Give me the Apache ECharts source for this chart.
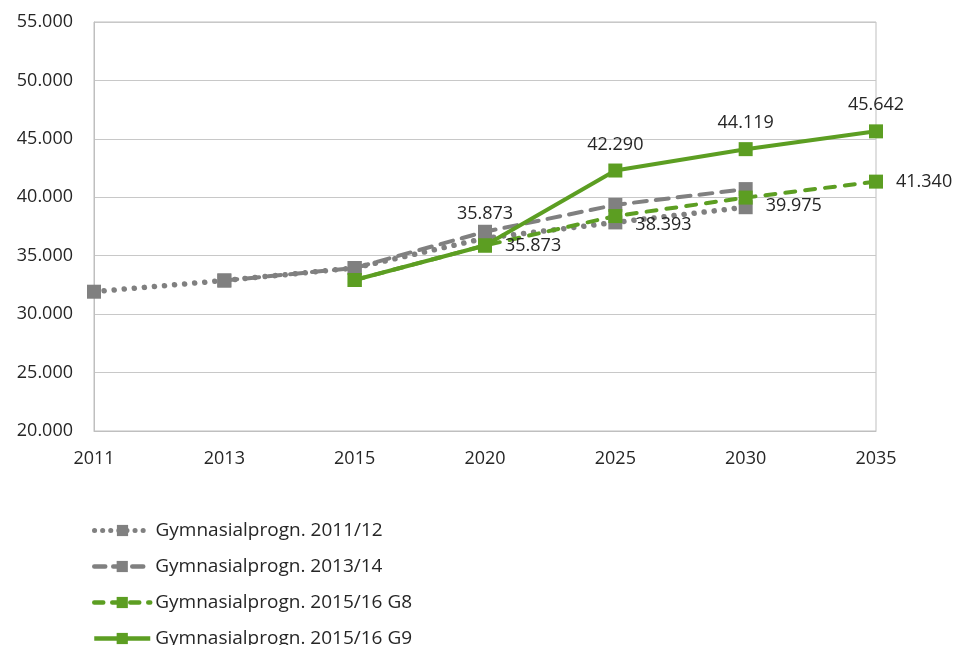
<!DOCTYPE html>
<html>
<head>
<meta charset="utf-8">
<script src="https://cdn.jsdelivr.net/npm/echarts@6/dist/echarts.min.js"></script>
<style>
  html, body { margin: 0; padding: 0; background: #fff; }
  #chart { width: 954px; height: 645px; }
</style>
</head>
<body>
<div id="chart"></div>
<script>
const years = ["2011", "2013", "2015", "2020", "2025", "2030", "2035"];
const seriesNames = [
  "Gymnasialprogn. 2011/12",
  "Gymnasialprogn. 2013/14",
  "Gymnasialprogn. 2015/16 G8",
  "Gymnasialprogn. 2015/16 G9",
];
const progn2011 = [31920, 32880, 33950, 36500, 37850, 39150, null];
const progn2013 = [null, 32880, 33950, 37050, 39350, 40700, null];
const prognG8 = [null, null, 32920, 35873, 38393, 39975, 41340];
const prognG9 = [null, null, 32920, 35873, 42290, 44119, 45642];

const grey = "#808080";
const green = "#5c9e22";
const textColor = "#262626";
const font = "'Open Sans', 'DejaVu Sans', sans-serif";

// line look per series: dotted, dashed, dashed, solid
const lineTypes = [[0.1, 10], [13, 9], [10, 10], "solid"];
const lineWidths = [5.5, 4, 4, 4];
const legendDash = [[0.1, 8], [11, 8], [9, 9], "solid"];

function fmt(v) {
  return String(Math.round(v)).replace(/\B(?=(\d{3})+(?!\d))/g, ".");
}

const chart = echarts.init(document.getElementById("chart"), null, { renderer: "canvas" });

function makeSeries(i, values, color, label, labelShift) {
  // labelShift nudges a few labels like in the original picture
  const data = values.map((v, k) =>
    labelShift && labelShift[k] ? { value: v, label: { offset: labelShift[k] } } : v
  );
  return {
    name: seriesNames[i],
    type: "line",
    data: data,
    symbol: "rect",
    symbolSize: 14,
    showSymbol: true,
    connectNulls: false,
    itemStyle: { color: color },
    lineStyle: {
      color: color,
      width: lineWidths[i],
      type: lineTypes[i],
      cap: lineTypes[i] === "solid" ? "butt" : "round",
    },
    label: label,
    emphasis: { disabled: true },
    animation: false,
  };
}

const labelStyle = {
  color: textColor,
  fontSize: 18,
  fontFamily: font,
  formatter: (p) => (p.dataIndex >= 3 ? fmt(p.value) : ""),
};

// one legend per entry so the list keeps one column down to the bottom edge
const legends = seriesNames.map((name, i) => ({
  orient: "vertical",
  left: 92,
  top: 521 + i * 36,
  padding: 0,
  itemWidth: 56,
  itemHeight: 14,
  data: [name],
  lineStyle: {
    width: i === 0 ? 5 : 4.5,
    type: legendDash[i],
    cap: i === 3 ? "butt" : "round",
  },
  textStyle: { color: textColor, fontSize: 19, fontFamily: font },
}));

const option = {
  backgroundColor: "#fff",
  animation: false,
  grid: {
    left: 94,
    right: 78,
    top: 22,
    bottom: 214,
    show: true,
    borderColor: "#bfbfbf",
    borderWidth: 1,
  },
  legend: legends,
  xAxis: {
    type: "category",
    data: years,
    boundaryGap: false,
    axisLine: { lineStyle: { color: "#bfbfbf", width: 1 } },
    axisTick: { show: false },
    axisLabel: { color: textColor, fontSize: 18, fontFamily: font, margin: 19 },
    splitLine: { show: false },
  },
  yAxis: {
    type: "value",
    min: 20000,
    max: 55000,
    interval: 5000,
    axisLine: { show: true, lineStyle: { color: "#bfbfbf", width: 1 } },
    axisTick: { show: false },
    axisLabel: {
      color: textColor,
      fontSize: 18,
      fontFamily: font,
      margin: 21,
      formatter: fmt,
    },
    splitLine: { lineStyle: { color: "#c8c8c8", width: 1 } },
  },
  series: [
    makeSeries(0, progn2011, grey, { show: false }),
    makeSeries(1, progn2013, grey, { show: false }),
    makeSeries(2, prognG8, green,
      Object.assign({ show: true, position: "right", distance: 13 }, labelStyle),
      [null, null, null, null, [0, 9], [0, 8], null]),
    makeSeries(3, prognG9, green,
      Object.assign({ show: true, position: "top", distance: 10 }, labelStyle),
      [null, null, null, [0, -6], null, null, null]),
  ],
};

chart.setOption(option);
</script>
</body>
</html>
